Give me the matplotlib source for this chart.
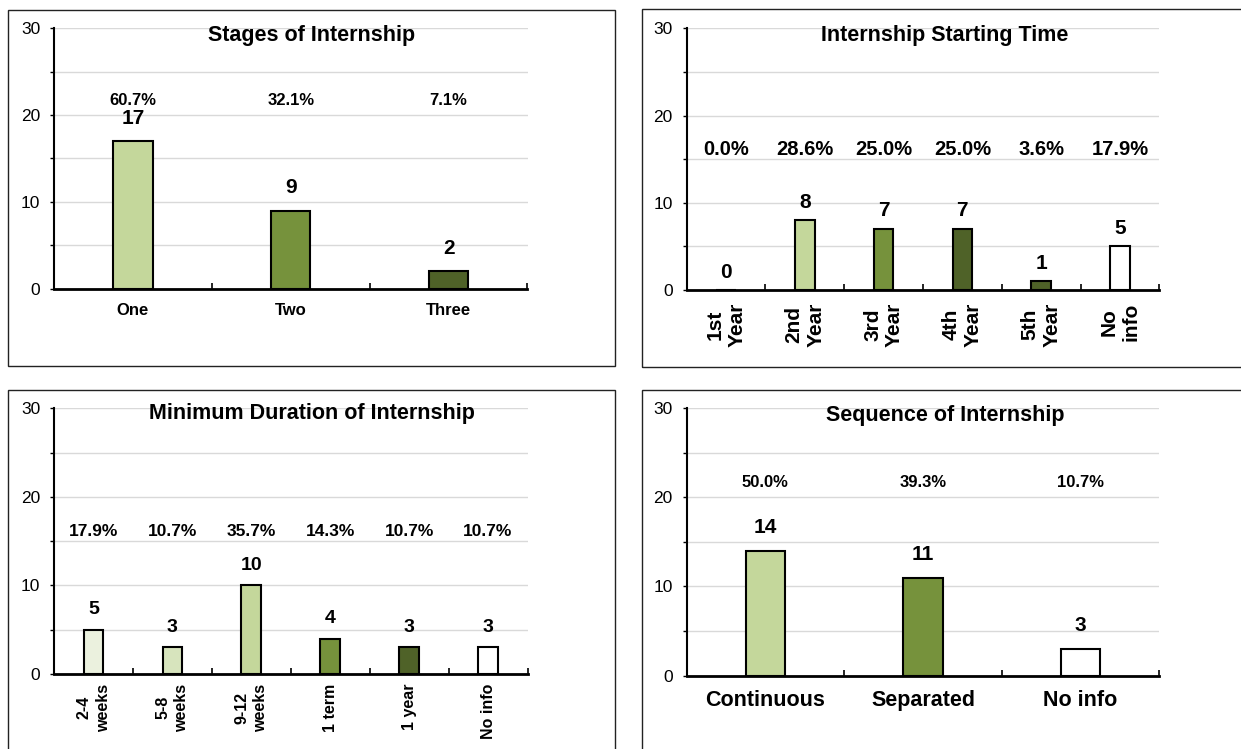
import matplotlib
matplotlib.use("Agg")
import matplotlib.pyplot as plt
from matplotlib.patches import Rectangle

plt.rcParams['font.family'] = ['Liberation Sans', 'DejaVu Sans']

# ---------------- data ----------------
stage_cats = ["One", "Two", "Three"]
stage_vals = [17, 9, 2]
stage_pcts = ["60.7%", "32.1%", "7.1%"]

start_cats = ["1st\nYear", "2nd\nYear", "3rd\nYear", "4th\nYear", "5th\nYear", "No\ninfo"]
start_vals = [0, 8, 7, 7, 1, 5]
start_pcts = ["0.0%", "28.6%", "25.0%", "25.0%", "3.6%", "17.9%"]

dur_cats = ["2-4\nweeks", "5-8\nweeks", "9-12\nweeks", "1 term", "1 year", "No info"]
dur_vals = [5, 3, 10, 4, 3, 3]
dur_pcts = ["17.9%", "10.7%", "35.7%", "14.3%", "10.7%", "10.7%"]

seq_cats = ["Continuous", "Separated", "No info"]
seq_vals = [14, 11, 3]
seq_pcts = ["50.0%", "39.3%", "10.7%"]

# ---------------- styles ----------------
C_L80 = "#ebf1de"
C_L60 = "#d7e4bd"
C_L40 = "#c4d79b"
C_D25 = "#76923c"
C_D50 = "#4f6228"
C_W = "#ffffff"

W, H = 1241, 749
fig = plt.figure(figsize=(W / 100, H / 100), dpi=100)


def px_rect(x0, y0, x1, y1):
    return [x0 / W, 1 - y1 / H, (x1 - x0) / W, (y1 - y0) / H]


def box(x0, y0, x1, y1):
    fig.patches.append(Rectangle((x0 / W, 1 - y1 / H), (x1 - x0) / W, (y1 - y0) / H,
                                 transform=fig.transFigure, fill=False,
                                 edgecolor="#222222", linewidth=1.0))


def panel(rect, cats, vals, pcts, colors, title, title_xy, pct_y, pct_size,
          cnt_size, cnt_off, lab_size, lab_rot, lab_pad, lab_ls=1.25):
    ax = fig.add_axes(px_rect(*rect))
    n = len(cats)
    x = list(range(n))
    ax.bar(x, vals, width=0.25, color=colors, edgecolor="black", linewidth=1.5, zorder=3)
    ax.set_xlim(-0.5, n - 0.5)
    ax.set_ylim(0, 30)
    ax.set_yticks([0, 10, 20, 30])
    ax.set_yticks([5, 15, 25], minor=True)
    ax.yaxis.grid(True, which="both", color="#d9d9d9", linewidth=1.0, zorder=0)
    ax.set_axisbelow(True)
    ax.tick_params(axis="y", which="both", direction="out", length=3, width=1,
                   labelsize=12.5, pad=7, colors="black")
    for s in ("top", "right"):
        ax.spines[s].set_visible(False)
    ax.spines["left"].set_linewidth(1.5)
    ax.spines["bottom"].set_linewidth(2)
    # category labels
    ax.set_xticks(x)
    ax.set_xticklabels(cats, fontsize=lab_size, fontweight="bold", rotation=lab_rot,
                       multialignment="center", linespacing=lab_ls)
    ax.tick_params(axis="x", which="major", length=0, pad=lab_pad)
    ax.set_xticks([i - 0.5 for i in range(n + 1)], minor=True)
    ax.tick_params(axis="x", which="minor", direction="in", length=4, width=1.2)
    # labels
    for xi, v, p in zip(x, vals, pcts):
        ax.text(xi, pct_y, p, ha="center", va="center", fontsize=pct_size,
                fontweight="bold")
        ax.annotate(str(v), (xi, v), xytext=(0, cnt_off * 0.72), textcoords="offset points",
                    ha="center", va="center", fontsize=cnt_size, fontweight="bold")
    fig.text(title_xy[0] / W, 1 - title_xy[1] / H, title, ha="center", va="center",
             fontsize=15.5, fontweight="bold")
    return ax


# frames
box(8, 9.5, 614.5, 365.5)
box(641.5, 9.5, 1250, 366.5)
box(8, 389.5, 614.5, 760)
box(641.5, 389.5, 1250, 760)

panel((54, 28.3, 527.5, 288.7), stage_cats, stage_vals, stage_pcts,
      [C_L40, C_D25, C_D50], "Stages of Internship", (312, 36),
      21.7, 12, 15, 23, 12, 0, 10)

panel((686.5, 28.3, 1159.4, 290), start_cats, start_vals, start_pcts,
      [C_L40, C_L40, C_D25, C_D50, C_D50, C_W], "Internship Starting Time", (945, 36),
      16.1, 14.5, 15, 18, 15, 90, 9, 1.2)

panel((54, 408.3, 527.5, 674), dur_cats, dur_vals, dur_pcts,
      [C_L80, C_L60, C_L40, C_D25, C_D50, C_W], "Minimum Duration of Internship", (312, 414),
      16.1, 12.5, 14, 20, 11.5, 90, 7, 1.35)

panel((686.5, 408, 1159.4, 675.7), seq_cats, seq_vals, seq_pcts,
      [C_L40, C_D25, C_W], "Sequence of Internship", (945, 416),
      21.6, 12, 15, 23, 15.5, 0, 10)

fig.savefig("out.png", dpi=100)
